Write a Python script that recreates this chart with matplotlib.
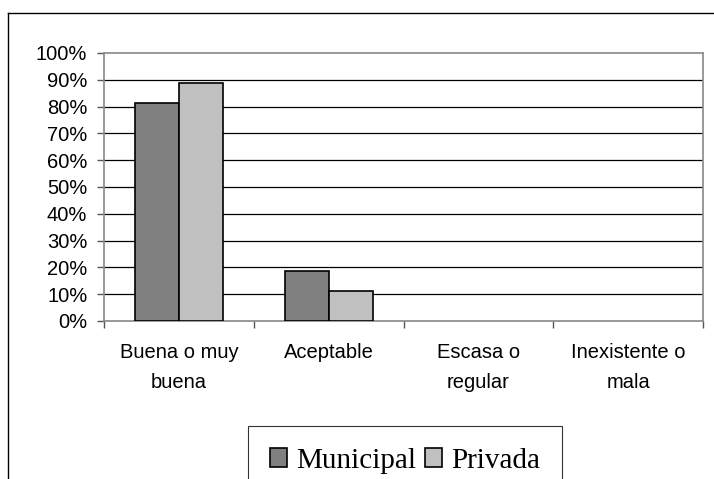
import matplotlib.pyplot as plt
from matplotlib.lines import Line2D
import numpy as np

# data
categories = ['Buena o muy\nbuena', 'Aceptable', 'Escasa o\nregular', 'Inexistente o\nmala']
municipal = [81.3, 18.7, 0, 0]
privada = [88.9, 11.1, 0, 0]
series_names = ['Municipal', 'Privada']
yticks = list(range(0, 101, 10))

fig = plt.figure(figsize=(7.14, 4.79), dpi=100)
ax = fig.add_axes([104 / 714, 1 - 321 / 479, 599 / 714, 268 / 479])

x = np.arange(len(categories))
w = 0.294
for vals, col, name, off in [(municipal, '#808080', series_names[0], -w / 2),
                             (privada, '#c0c0c0', series_names[1], w / 2)]:
    edges = ['black' if v > 0 else 'none' for v in vals]
    ax.bar(x + off, vals, w, color=col, edgecolor=edges, linewidth=1.2, zorder=3, label=name)

# gridlines
for v in yticks[1:-1]:
    ax.axhline(v, color='black', linewidth=0.9, zorder=1)

ax.set_xlim(-0.5, len(categories) - 0.5)
ax.set_ylim(0, 100)
ax.set_yticks(yticks)
ax.set_yticklabels([f'{v}%' for v in yticks], fontfamily='Liberation Sans', fontsize=14.5)
ax.tick_params(axis='y', length=5, width=1, color='#555555', pad=7)

ax.set_xticks(x)
ax.set_xticklabels(categories, fontfamily='Liberation Sans', fontsize=14.5, linespacing=1.75)
ax.set_xticks(np.arange(len(categories) + 1) - 0.5, minor=True)
ax.tick_params(axis='x', which='major', length=0, pad=16)
ax.tick_params(axis='x', which='minor', length=5, width=1, color='#555555')

for s in ax.spines.values():
    s.set_color('#888888')
    s.set_linewidth(1.2)

# outer frame (partly cut off)
fig.add_artist(Line2D([8 / 714, 8 / 714], [0, 1 - 13 / 479], transform=fig.transFigure,
                      color='black', linewidth=1))
fig.add_artist(Line2D([8 / 714, 1], [1 - 13 / 479, 1 - 13 / 479], transform=fig.transFigure,
                      color='black', linewidth=1))

leg = fig.legend(loc='upper center', bbox_to_anchor=(405 / 714, 1 - 426 / 479), ncol=2,
                 prop={'family': 'Liberation Serif', 'size': 21}, frameon=True, fancybox=False,
                 edgecolor='black', handlelength=0.6, handleheight=0.6, handletextpad=0.3,
                 columnspacing=0.3, borderpad=0.75, borderaxespad=0)
leg.get_frame().set_linewidth(0.8)

fig.savefig('out.png', dpi=100)
